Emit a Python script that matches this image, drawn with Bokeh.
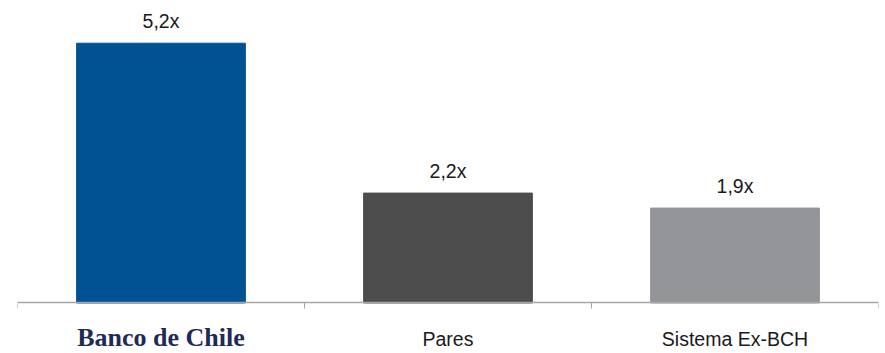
from bokeh.plotting import figure
from bokeh.models import (Range1d, LinearAxis, FixedTicker, ColumnDataSource, Label)
from bokeh.core.properties import value
from bokeh.embed import file_html
from bokeh.resources import INLINE

categories = ["Banco de Chile", "Pares", "Sistema Ex-BCH"]
values = [5.2, 2.2, 1.9]
value_labels = ["5,2x", "2,2x", "1,9x"]
colors = ["#005293", "#4d4d4d", "#939598"]

centers = [i + 0.5 for i in range(len(categories))]
src = ColumnDataSource(dict(x=centers, val=values, lab=value_labels, col=colors))

# frame covers the full height; the axes sit at y=0 inside it
p = figure(width=885, height=353, output_backend="svg", toolbar_location=None,
           x_range=Range1d(0, len(categories)), y_range=Range1d(-1.011, 6.055),
           x_axis_location=None, y_axis_location=None,
           min_border_left=17, min_border_right=7, min_border_top=0, min_border_bottom=0)
p.outline_line_color = None
p.grid.visible = False
p.background_fill_color = "white"
p.border_fill_color = "white"

p.vbar(x="x", top="val", bottom=0, width=0.588, color="col", source=src)
p.text(x="x", y="val", text="lab", source=src, text_align="center",
       text_baseline="alphabetic", y_offset=-22,
       text_font=value("Liberation Sans"), text_font_size="19.5px", text_color="#1a1a1a")

# tick axis with ticks at category boundaries (no labels)
tax = LinearAxis(ticker=FixedTicker(ticks=list(range(len(categories) + 1))), fixed_location=0)
tax.axis_line_color = "#a6a6a6"
tax.axis_line_width = 1.5
tax.major_tick_line_color = "#a6a6a6"
tax.major_tick_out = 6
tax.major_tick_in = 0
tax.minor_tick_out = 0
tax.minor_tick_in = 0
tax.major_label_text_color = None
tax.major_label_standoff = 0
p.add_layout(tax, "below")

# category labels (first one is drawn as the bank's logotype below)
cax = LinearAxis(ticker=FixedTicker(ticks=centers[1:]), fixed_location=0)
cax.axis_line_color = None
cax.major_tick_line_color = None
cax.minor_tick_line_color = None
cax.major_label_overrides = {c: n for c, n in zip(centers[1:], categories[1:])}
cax.major_label_text_font = "Liberation Sans"
cax.major_label_text_font_size = "19.5px"
cax.major_label_text_color = "#1a1a1a"
cax.major_label_standoff = 19
p.add_layout(cax, "below")

logo = Label(x=centers[0], y=-0.70, text=categories[0],
             text_align="center", text_baseline="alphabetic",
             text_font="Liberation Serif", text_font_style="bold", text_font_size="26px",
             text_color="#1f2a55")
p.add_layout(logo)

open("out.html", "w").write(file_html(p, INLINE))
